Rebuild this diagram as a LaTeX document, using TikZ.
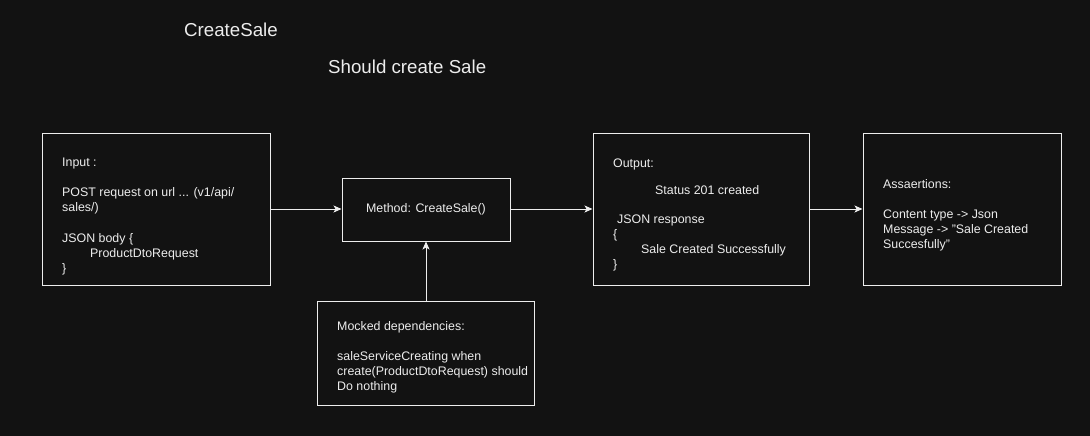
\documentclass[tikz,border=0pt]{standalone}
\usepackage{fontspec}
\setmainfont{Liberation Sans}
\usetikzlibrary{arrows.meta}

\definecolor{fond}{HTML}{121212}
\definecolor{trait}{HTML}{EDEDED}

\begin{document}
\begin{tikzpicture}[x=1pt,y=-1pt,
  boite/.style={draw=trait, line width=1pt, fill=fond, inner sep=0pt},
  texte/.style={text=trait, font=\fontsize{12.4}{15}\selectfont, inner sep=0pt, align=left, anchor=north west},
  titre/.style={text=trait, font=\fontsize{18.7}{22}\selectfont, inner sep=0pt, anchor=west},
  fleche/.style={draw=trait, line width=1pt, -{Stealth[length=8pt,width=7pt,inset=2pt]}}]

\fill[fond] (0,0) rectangle (1090,436);%le fond
\useasboundingbox (0,0) rectangle (1090,436);

\node[titre] (nom) at (184,29.5) {CreateSale};
\node[titre] (cas) at (328,67) {Should create Sale};

%les boites
\node[boite, minimum width=228, minimum height=152] (entree) at (156,209) {};
\node[boite, minimum width=168, minimum height=63, text=trait, font=\fontsize{12.4}{15}\selectfont] (methode) at (426,209.5) {Method: CreateSale()};
\node[boite, minimum width=216, minimum height=152] (sortie) at (701,209) {};
\node[boite, minimum width=198, minimum height=152] (assert) at (962,209) {};
\node[boite, minimum width=217, minimum height=104] (mock) at (426,353) {};

%les textes
\node[texte] (t_entree) at (62,157.7) {Input :\\[15pt]
POST request on url ... (v1/api/\\
sales/)\\[16pt]
JSON body \{\\
\hspace{28pt}ProductDtoRequest\\
\}};

\node[texte] (t_sortie) at (613,158.7) {Output:\\[12pt]
\hspace{42pt}Status 201 created\\[14pt]
\hspace{4pt}JSON response\\
\{\\
\hspace{28pt}Sale Created Successfully\\
\}};

\node[texte] (t_assert) at (883,179.7) {Assaertions:\\[15pt]
Content type -> Json\\
Message -> "Sale Created\\
Succesfully"};

\node[texte] (t_mock) at (337,321.7) {Mocked dependencies:\\[15pt]
saleServiceCreating when\\
create(ProductDtoRequest) should\\
Do nothing};

%les fleches
\draw[fleche] (entree.east) -- (methode.west |- entree.east);
\draw[fleche] (methode.east |- sortie.west) -- (sortie.west);
\draw[fleche] (sortie.east) -- (assert.west);
\draw[fleche] (mock.north) -- (methode.south);

\end{tikzpicture}
\end{document}
